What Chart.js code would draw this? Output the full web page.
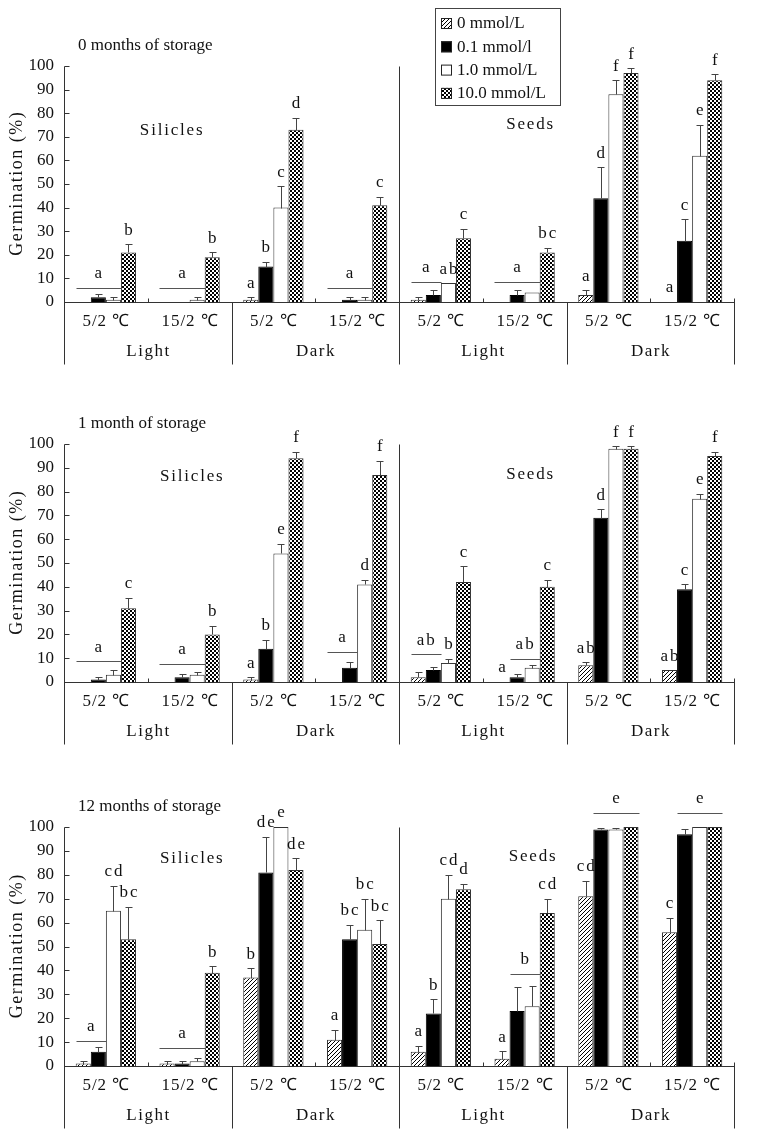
<!DOCTYPE html>
<html>
<head>
<meta charset="utf-8">
<script src="https://cdn.jsdelivr.net/npm/chart.js@4.4.0/dist/chart.umd.min.js"></script>
<style>
  body { margin: 0; background: #fff; }
  canvas { position: absolute; left: 0; }
</style>
</head>
<body>
<canvas id="p0" width="761" height="380" style="top:0px"></canvas>
<canvas id="p1" width="761" height="380" style="top:380px"></canvas>
<canvas id="p2" width="761" height="378" style="top:760px"></canvas>
<script>
const seriesNames = ['0 mmol/L', '0.1 mmol/l', '1.0 mmol/L', '10.0 mmol/L'];
const tempLabels = ['5/2 ℃', '15/2 ℃', '5/2 ℃', '15/2 ℃', '5/2 ℃', '15/2 ℃', '5/2 ℃', '15/2 ℃'];
const lightLabels = ['Light', 'Dark', 'Light', 'Dark'];
const partLabels = ['Silicles', 'Seeds'];
const panelTitles = ['0 months of storage', '1 month of storage', '12 months of storage'];
const yTicks = [0, 10, 20, 30, 40, 50, 60, 70, 80, 90, 100];

// 0 months: one row per concentration, 8 groups (silicles L5, L15, D5, D15, seeds L5, L15, D5, D15)
const m0Values = [
    [0, 0, 1, 0, 1, 0, 3, 0],
    [2, 0, 15, 1, 3, 3, 44, 26],
    [1, 1, 40, 1, 8, 4, 88, 62],
    [21, 19, 73, 41, 27, 21, 97, 94]
];
const m0Errors = [
    [0, 0, 1, 0, 1, 0, 2, 0],
    [1.5, 0, 2, 1, 2, 2, 13, 9],
    [1, 1, 9, 1, 0, 0, 6, 13],
    [3.5, 2, 5, 3.5, 4, 2, 2, 2.5]
];
const m0Letters = [
    ['', '', 'a', '', '', '', 'a', 'a'],
    ['', '', 'b', '', '', '', 'd', 'c'],
    ['', '', 'c', '', 'ab', '', 'f', 'e'],
    ['b', 'b', 'd', 'c', 'c', 'bc', 'f', 'f']
];
const m0Lines = [
    {group: 0, from: 0, to: 2, value: 6, text: 'a'},
    {group: 1, from: 0, to: 2, value: 6, text: 'a'},
    {group: 3, from: 0, to: 2, value: 6, text: 'a'},
    {group: 4, from: 0, to: 1, value: 8.5, text: 'a'},
    {group: 5, from: 0, to: 2, value: 8.5, text: 'a'}
];

// 1 month
const m1Values = [
    [0, 0, 1, 0, 2, 0, 7, 5],
    [1, 2, 14, 6, 5, 2, 69, 39],
    [3, 3, 54, 41, 8, 6, 98, 77],
    [31, 20, 94, 87, 42, 40, 98, 95]
];
const m1Errors = [
    [0, 0, 1, 0, 2, 0, 1.2, 0],
    [1, 1.5, 3.8, 2.5, 1.3, 1.5, 3.6, 2],
    [2, 1, 4, 2, 1.8, 1, 1, 2],
    [4.4, 3.7, 2.8, 6, 6.6, 3, 1, 1.7]
];
const m1Letters = [
    ['', '', 'a', '', '', 'a', 'ab', 'ab'],
    ['', '', 'b', '', '', '', 'd', 'c'],
    ['', '', 'e', 'd', 'b', '', 'f', 'e'],
    ['c', 'b', 'f', 'f', 'c', 'c', 'f', 'f']
];
const m1Lines = [
    {group: 0, from: 0, to: 2, value: 8.7, text: 'a'},
    {group: 1, from: 0, to: 2, value: 7.7, text: 'a'},
    {group: 3, from: 0, to: 1, value: 12.6, text: 'a'},
    {group: 4, from: 0, to: 1, value: 11.7, text: 'ab'},
    {group: 5, from: 1, to: 2, value: 9.8, text: 'ab'}
];

// 12 months
const m12Values = [
    [1, 1, 37, 11, 6, 3, 71, 56],
    [6, 1, 81, 53, 22, 23, 99, 97],
    [65, 2, 100, 57, 70, 25, 99, 100],
    [53, 39, 82, 51, 74, 64, 100, 100]
];
const m12Errors = [
    [1, 1, 3.8, 4.2, 2.5, 3.2, 6.6, 6],
    [2.1, 1, 15, 6.2, 6, 10.2, 0.5, 2],
    [10.5, 1.5, 0, 13, 10, 8.6, 0.5, 0],
    [13.6, 2.8, 4.9, 10, 2.3, 6, 0, 0]
];
const m12Letters = [
    ['', '', 'b', 'a', 'a', 'a', 'cd', 'c'],
    ['', '', 'de', 'bc', 'b', '', '', ''],
    ['cd', '', 'e', 'bc', 'cd', '', '', ''],
    ['bc', 'b', 'de', 'bc', 'd', 'cd', '', '']
];
const m12Lines = [
    {group: 0, from: 0, to: 1, value: 10.6, text: 'a'},
    {group: 1, from: 0, to: 2, value: 7.7, text: 'a'},
    {group: 5, from: 1, to: 2, value: 38.5, text: 'b'},
    {group: 6, from: 1, to: 3, value: 106, text: 'e'},
    {group: 7, from: 1, to: 3, value: 106, text: 'e'}
];

const FONT = '"Liberation Serif", "Times New Roman", serif';
const INK = '#111';

function makeHatch() {
    const c = document.createElement('canvas');
    c.width = 4; c.height = 4;
    const g = c.getContext('2d');
    g.fillStyle = '#fff';
    g.fillRect(0, 0, 4, 4);
    g.strokeStyle = '#000';
    g.lineWidth = 1;
    g.beginPath();
    g.moveTo(0, 4); g.lineTo(4, 0);
    g.moveTo(-1, 1); g.lineTo(1, -1);
    g.moveTo(3, 5); g.lineTo(5, 3);
    g.stroke();
    return g.createPattern(c, 'repeat');
}

function makeChecker() {
    const c = document.createElement('canvas');
    c.width = 4; c.height = 4;
    const g = c.getContext('2d');
    g.fillStyle = '#fff';
    g.fillRect(0, 0, 4, 4);
    g.fillStyle = '#000';
    g.fillRect(0, 0, 2, 2);
    g.fillRect(2, 2, 2, 2);
    return g.createPattern(c, 'repeat');
}

const fills = [makeHatch(), '#000', '#fff', makeChecker()];

function drawText(ctx, text, x, y, size, spacing, align) {
    ctx.save();
    ctx.font = size + 'px ' + FONT;
    ctx.letterSpacing = (spacing || 0) + 'px';
    ctx.textAlign = align || 'center';
    ctx.textBaseline = 'middle';
    ctx.fillStyle = INK;
    let dx = (align === 'left') ? 0 : (spacing || 0) / 2;
    ctx.fillText(text, x + dx, y);
    ctx.restore();
}

function line(ctx, x1, y1, x2, y2, color) {
    ctx.beginPath();
    ctx.strokeStyle = color || '#333';
    ctx.lineWidth = 1;
    ctx.moveTo(Math.round(x1) + 0.5, Math.round(y1) + 0.5);
    ctx.lineTo(Math.round(x2) + 0.5, Math.round(y2) + 0.5);
    ctx.stroke();
}

const annotPlugin = {
    id: 'annot',
    afterDatasetsDraw(chart, args, opts) {
        const ctx = chart.ctx;
        const a = chart.chartArea;
        const x = chart.scales.x;
        const y = chart.scales.y;
        const y0 = Math.round(y.getPixelForValue(0));
        const yTop = Math.round(y.getPixelForValue(100));
        const w = (a.right - a.left) / 8;
        ctx.save();

        // error bars
        opts.values.forEach((row, i) => {
            const meta = chart.getDatasetMeta(i);
            row.forEach((v, j) => {
                const e = opts.errors[i][j];
                if (e <= 0) return;
                const bar = meta.data[j];
                const top = y.getPixelForValue(v + e);
                const by = y.getPixelForValue(v);
                line(ctx, bar.x, by, bar.x, top, '#444');
                line(ctx, bar.x - 3.5, top, bar.x + 3.5, top, '#444');
            });
        });

        // letters
        opts.letters.forEach((row, i) => {
            const meta = chart.getDatasetMeta(i);
            row.forEach((t, j) => {
                if (!t) return;
                const bar = meta.data[j];
                const top = y.getPixelForValue(opts.values[i][j] + opts.errors[i][j]);
                drawText(ctx, t, bar.x, top - 14, 17, 2);
            });
        });

        // group lines
        opts.lines.forEach(l => {
            const b1 = chart.getDatasetMeta(l.from).data[l.group];
            const b2 = chart.getDatasetMeta(l.to).data[l.group];
            const x1 = b1.x - b1.width / 2;
            const x2 = b2.x + b2.width / 2;
            const ly = y.getPixelForValue(l.value);
            line(ctx, x1, ly, x2, ly, '#555');
            drawText(ctx, l.text, (x1 + x2) / 2, ly - 14, 17, 2);
        });

        // axes
        line(ctx, a.left, y0, a.right, y0, '#333');
        line(ctx, a.left, yTop, a.left, y0 + 62, '#333');
        yTicks.forEach(t => {
            const ty = y.getPixelForValue(t);
            line(ctx, a.left, ty, a.left + 5, ty, '#333');
        });
        for (let k = 1; k <= 8; k++) {
            const bx = a.left + k * w;
            if (k === 4) line(ctx, bx, yTop, bx, y0 + 62, '#333');
            else if (k === 2 || k === 6) line(ctx, bx, y0, bx, y0 + 62, '#333');
            else if (k === 8) line(ctx, bx, y0 - 4, bx, y0 + 62, '#333');
            else line(ctx, bx, y0 - 4, bx, y0, '#333');
        }
        tempLabels.forEach((t, j) => {
            drawText(ctx, t, x.getPixelForValue(j), y0 + 20, 17, 1);
        });
        lightLabels.forEach((t, m) => {
            drawText(ctx, t, a.left + (2 * m + 1) * w, y0 + 50, 17, 1.5);
        });

        // titles
        drawText(ctx, opts.title, a.left + 14, yTop - 20, 17, 0, 'left');
        opts.parts.forEach((p, k) => {
            drawText(ctx, partLabels[k], x.getPixelForValue(p[0]), y.getPixelForValue(p[1]), 17, 1.8);
        });

        // y title
        ctx.save();
        ctx.translate(17, (yTop + y0) / 2);
        ctx.rotate(-Math.PI / 2);
        drawText(ctx, 'Germination (%)', 0, 0, 18, 1.5);
        ctx.restore();

        // legend
        if (opts.legend) {
            const L = opts.legend;
            ctx.fillStyle = '#fff';
            ctx.fillRect(L.x, L.y, L.w, L.h);
            ctx.strokeStyle = '#444';
            ctx.strokeRect(L.x + 0.5, L.y + 0.5, L.w, L.h);
            seriesNames.forEach((name, i) => {
                const cy = L.y + 15 + i * 23.3;
                ctx.fillStyle = fills[i];
                ctx.fillRect(L.x + 6, cy - 5, 11, 11);
                ctx.strokeStyle = '#222';
                ctx.strokeRect(L.x + 6.5, cy - 4.5, 10, 10);
                drawText(ctx, name, L.x + 22, cy + 1, 17, 0, 'left');
            });
        }
        ctx.restore();
    }
};

function buildChart(id, values, errors, letters, lines, title, parts, pad, legend) {
    const datasets = values.map((row, i) => ({
        label: seriesNames[i],
        data: row,
        backgroundColor: fills[i],
        borderColor: i === 1 ? '#000' : '#333',
        borderWidth: 1,
        borderSkipped: 'bottom',
        categoryPercentage: 0.72,
        barPercentage: 1.0
    }));
    return new Chart(document.getElementById(id), {
        type: 'bar',
        data: {labels: tempLabels, datasets: datasets},
        plugins: [annotPlugin],
        options: {
            responsive: false,
            animation: false,
            devicePixelRatio: 1,
            layout: {padding: pad},
            scales: {
                x: {display: false},
                y: {
                    min: 0,
                    max: 100,
                    grid: {display: false, drawTicks: false},
                    border: {display: false},
                    ticks: {
                        stepSize: 10,
                        padding: 10,
                        color: INK,
                        font: {family: FONT, size: 17}
                    },
                    afterFit: s => { s.width = 64; }
                }
            },
            plugins: {
                legend: {display: false},
                tooltip: {enabled: false},
                annot: {
                    values: values, errors: errors, letters: letters, lines: lines,
                    title: title, parts: parts, legend: legend
                }
            }
        }
    });
}

buildChart('p0', m0Values, m0Errors, m0Letters, m0Lines, panelTitles[0],
    [[0.78, 72.5], [5.06, 75]], {left: 0, right: 27, top: 66, bottom: 78},
    {x: 435, y: 8, w: 125, h: 97});
buildChart('p1', m1Values, m1Errors, m1Letters, m1Lines, panelTitles[1],
    [[1.02, 86.5], [5.06, 87]], {left: 0, right: 27, top: 64, bottom: 78}, null);
buildChart('p2', m12Values, m12Errors, m12Letters, m12Lines, panelTitles[2],
    [[1.02, 87], [5.09, 87.5]], {left: 0, right: 27, top: 67, bottom: 72}, null);
</script>
</body>
</html>
